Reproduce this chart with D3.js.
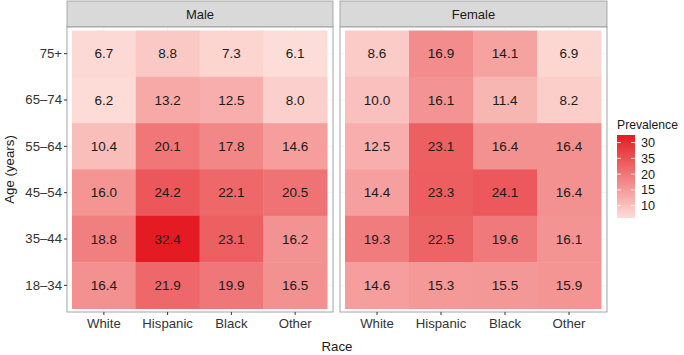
<!DOCTYPE html>
<style>
  body { margin: 0; background: #fff; }
  svg { font-family: 'Liberation Sans', Arial, sans-serif; }
  .grid line { stroke: #ebebeb; stroke-width: 0.6; }
  .axis text { fill: #333; font-size: 13.2px; }
  .axis line { stroke: #333; }
  .val { font-size: 13.5px; fill: #1a1a1a; }
</style>
<body>
</body>
<script src="https://cdn.jsdelivr.net/npm/d3@7/dist/d3.min.js"></script>
<script>
  const races = ['White', 'Hispanic', 'Black', 'Other'];
  const ages = ['75+', '65\u201374', '55\u201364', '45\u201354', '35\u201344', '18\u201334'];
  const sexes = ['Male', 'Female'];
  // rows follow ages, columns follow races
  const male = [
    [6.7, 8.8, 7.3, 6.1],
    [6.2, 13.2, 12.5, 8.0],
    [10.4, 20.1, 17.8, 14.6],
    [16.0, 24.2, 22.1, 20.5],
    [18.8, 32.4, 23.1, 16.2],
    [16.4, 21.9, 19.9, 16.5]
  ];
  const female = [
    [8.6, 16.9, 14.1, 6.9],
    [10.0, 16.1, 11.4, 8.2],
    [12.5, 23.1, 16.4, 16.4],
    [14.4, 23.3, 24.1, 16.4],
    [19.3, 22.5, 19.6, 16.1],
    [14.6, 15.3, 15.5, 15.9]
  ];
  const legendBreaks = [30, 25, 20, 15, 10];
  const legendLabels = ['30', '35', '20', '15', '10'];

  const W = 684, H = 355;
  const panelTop = 27, panelBot = 312, stripTop = 1;
  const panels = [{x0: 67, x1: 333}, {x0: 340, x1: 607}];

  const all = male.concat(female).flat();
  const color = d3.scaleLinear()
    .domain([d3.min(all), d3.max(all)])
    .range(['#fdddd8', '#e41b22'])
    .interpolate(d3.interpolateRgb);

  const y = d3.scaleBand().domain(ages).range([panelTop + 3.5, panelBot - 3.5]);

  const svg = d3.select('body').append('svg')
    .attr('width', W).attr('height', H);

  [male, female].forEach((data, p) => {
    const pn = panels[p];
    const x = d3.scaleBand().domain(races).range([pn.x0 + 5, pn.x1 - 6]);
    const g = svg.append('g');

    // strip
    g.append('rect')
      .attr('x', pn.x0).attr('y', stripTop)
      .attr('width', pn.x1 - pn.x0).attr('height', panelTop - stripTop)
      .attr('fill', '#d9d9d9').attr('stroke', '#999').attr('stroke-width', 0.8);
    g.append('text')
      .attr('x', (pn.x0 + pn.x1) / 2).attr('y', (stripTop + panelTop) / 2)
      .attr('dy', '0.35em').attr('text-anchor', 'middle')
      .attr('font-size', 13).attr('fill', '#1a1a1a')
      .text(sexes[p]);

    // panel background and grid
    g.append('rect')
      .attr('x', pn.x0).attr('y', panelTop)
      .attr('width', pn.x1 - pn.x0).attr('height', panelBot - panelTop)
      .attr('fill', '#fff');
    const grid = g.append('g').attr('class', 'grid');
    grid.selectAll('.gv').data(races).join('line').attr('class', 'gv')
      .attr('x1', d => x(d) + x.bandwidth() / 2).attr('x2', d => x(d) + x.bandwidth() / 2)
      .attr('y1', panelTop).attr('y2', panelBot);
    grid.selectAll('.gh').data(ages).join('line').attr('class', 'gh')
      .attr('y1', d => y(d) + y.bandwidth() / 2).attr('y2', d => y(d) + y.bandwidth() / 2)
      .attr('x1', pn.x0).attr('x2', pn.x1);

    const cells = [];
    ages.forEach((a, i) => races.forEach((r, j) => cells.push({a, r, v: data[i][j]})));

    g.append('g').selectAll('rect').data(cells).join('rect')
      .attr('x', d => x(d.r)).attr('y', d => y(d.a))
      .attr('width', x.bandwidth() + 0.5).attr('height', y.bandwidth() + 0.5)
      .attr('fill', d => color(d.v));

    g.append('g').selectAll('text').data(cells).join('text')
      .attr('class', 'val')
      .attr('x', d => x(d.r) + x.bandwidth() / 2)
      .attr('y', d => y(d.a) + y.bandwidth() / 2)
      .attr('dy', '0.35em').attr('text-anchor', 'middle')
      .text(d => d.v.toFixed(1));

    // panel border
    g.append('rect')
      .attr('x', pn.x0).attr('y', panelTop)
      .attr('width', pn.x1 - pn.x0).attr('height', panelBot - panelTop)
      .attr('fill', 'none').attr('stroke', '#999').attr('stroke-width', 0.9);

    // x axis
    g.append('g').attr('class', 'axis')
      .attr('transform', `translate(0,${panelBot})`)
      .call(d3.axisBottom(x).tickSize(3).tickPadding(4))
      .call(a => a.select('.domain').remove());

    if (p === 0) {
      g.append('g').attr('class', 'axis')
        .attr('transform', `translate(${pn.x0},0)`)
        .call(d3.axisLeft(y).tickSize(3).tickPadding(2))
        .call(a => a.select('.domain').remove());
    }
  });

  // axis titles
  svg.append('text')
    .attr('x', 337).attr('y', 351).attr('text-anchor', 'middle')
    .attr('font-size', 13.3).attr('fill', '#1a1a1a').text('Race');
  svg.append('text')
    .attr('transform', `translate(14,${(panelTop + panelBot) / 2}) rotate(-90)`)
    .attr('text-anchor', 'middle')
    .attr('font-size', 13.3).attr('fill', '#1a1a1a').text('Age (years)');

  // legend
  const lg = svg.append('g');
  const lx = 617, lw = 18;
  const ly = d3.scaleLinear().domain(color.domain()).range([218, 135]);
  const gradId = 'grad';
  const grad = svg.append('defs').append('linearGradient')
    .attr('id', gradId).attr('x1', 0).attr('x2', 0).attr('y1', 1).attr('y2', 0);
  grad.append('stop').attr('offset', '0%').attr('stop-color', color.range()[0]);
  grad.append('stop').attr('offset', '100%').attr('stop-color', color.range()[1]);
  lg.append('text').attr('x', lx).attr('y', 129)
    .attr('font-size', 12.2).attr('fill', '#1a1a1a').text('Prevalence');
  lg.append('rect')
    .attr('x', lx).attr('y', ly.range()[1])
    .attr('width', lw).attr('height', ly.range()[0] - ly.range()[1])
    .attr('fill', `url(#${gradId})`);
  const tk = lg.append('g').selectAll('g').data(legendBreaks).join('g');
  tk.append('line')
    .attr('x1', lx).attr('x2', lx + 4)
    .attr('y1', d => ly(d)).attr('y2', d => ly(d))
    .attr('stroke', '#fff').attr('stroke-width', 0.8);
  tk.append('line')
    .attr('x1', lx + lw - 4).attr('x2', lx + lw)
    .attr('y1', d => ly(d)).attr('y2', d => ly(d))
    .attr('stroke', '#fff').attr('stroke-width', 0.8);
  tk.append('text')
    .attr('x', lx + lw + 6).attr('y', d => ly(d)).attr('dy', '0.35em')
    .attr('font-size', 12.7).attr('fill', '#1a1a1a')
    .text((d, i) => legendLabels[i]);
</script>
